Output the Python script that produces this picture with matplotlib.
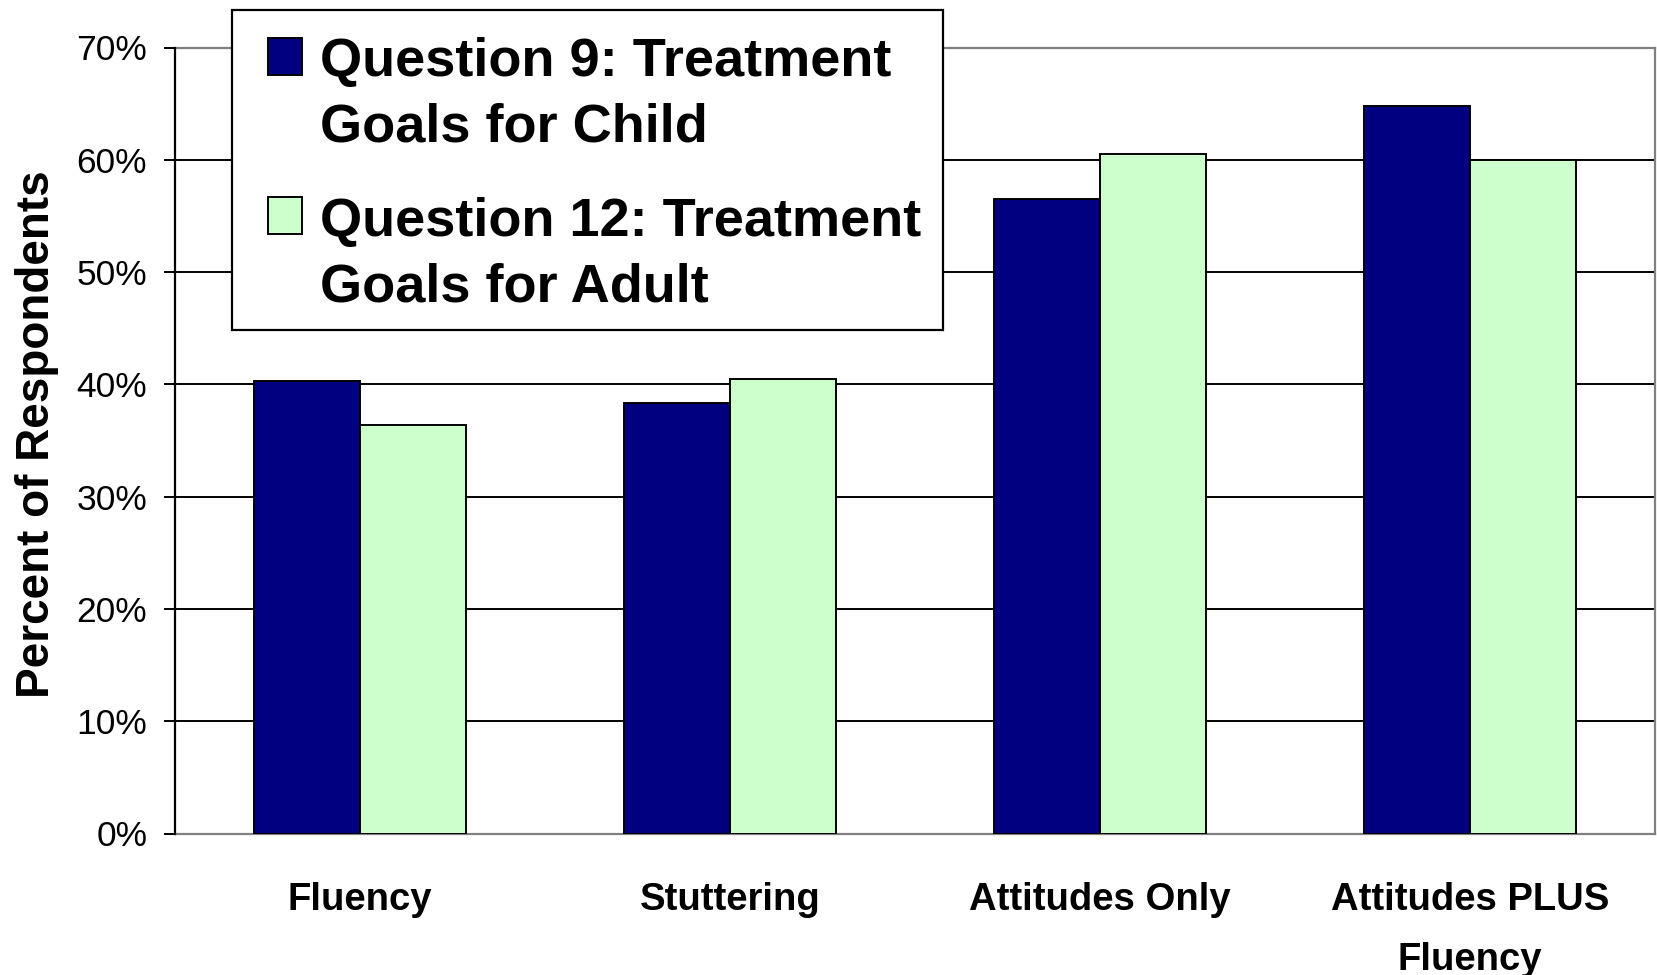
import matplotlib
matplotlib.use("Agg")
import matplotlib.pyplot as plt
import matplotlib.transforms as mtransforms
from matplotlib.patches import Rectangle
from matplotlib.ticker import FuncFormatter
import numpy as np

plt.rcParams['font.family'] = ['Liberation Sans', 'DejaVu Sans']

# ---- data -------------------------------------------------------------
categories = ["Fluency", "Stuttering", "Attitudes Only", "Attitudes PLUS\nFluency"]
series_names = ["Question 9: Treatment\nGoals for Child",
                "Question 12: Treatment\nGoals for Adult"]
q9_child = [40.3, 38.3, 56.5, 64.8]
q12_adult = [36.4, 40.5, 60.5, 60.0]
y_ticks = [0, 10, 20, 30, 40, 50, 60, 70]
y_label = "Percent of Respondents"

colors = ["#000080", "#CCFFCC"]

# ---- figure -------------------------------------------------------------
W, H = 1658, 975
fig = plt.figure(figsize=(W / 100, H / 100), dpi=100)
ax = fig.add_axes([175 / W, 1 - 833.5 / H, 1480 / W, (833.5 - 47.5) / H])

x = np.arange(len(categories))
bw = 1 / 3.5  # 150% gap between groups
for i, (vals, col) in enumerate(zip([q9_child, q12_adult], colors)):
    ax.bar(x + (i - 0.5) * bw, vals, width=bw, color=col,
           edgecolor="black", linewidth=1.4, zorder=3)

ax.set_xlim(-0.5, len(categories) - 0.5)
ax.set_ylim(y_ticks[0], y_ticks[-1])
ax.set_yticks(y_ticks)
ax.yaxis.set_major_formatter(FuncFormatter(lambda v, p: f"{v:.0f}%"))

# horizontal gridlines (inner ones only; the frame covers 0% and 70%)
for v in y_ticks[1:-1]:
    ax.axhline(v, color="black", linewidth=1.4, zorder=1)

for side in ["top", "right", "bottom"]:
    ax.spines[side].set_color("#808080")
    ax.spines[side].set_linewidth(1.6)
ax.spines["left"].set_color("black")
ax.spines["left"].set_linewidth(1.6)
ax.spines["left"].set_zorder(4)

ax.tick_params(axis="y", direction="out", length=8, width=1.4, pad=12,
               labelsize=25.5, color="black")
ax.set_xticks(x)
ax.set_xticklabels(categories, fontsize=27.5, fontweight="bold",
                   linespacing=1.86)
ax.tick_params(axis="x", length=0, pad=35)

# y-axis title
px = mtransforms.Affine2D().scale(1 / W, -1 / H).translate(0, 1) + fig.transFigure
fig.text(37, 434, y_label, transform=px, rotation=90, ha="center",
         va="center", fontsize=33, fontweight="bold")

# ---- legend box -------------------------------------------------------
fig.patches.append(Rectangle((232.3, 10), 711, 320, transform=px,
                             facecolor="white", edgecolor="black",
                             linewidth=1.6, zorder=5))
sq_tops = [37.5, 196.5]
first_baselines = [76, 236]
line_step = 65.5
for name, col, top, base in zip(series_names, colors, sq_tops, first_baselines):
    fig.patches.append(Rectangle((268, top), 34, 37, transform=px,
                                 facecolor=col, edgecolor="black",
                                 linewidth=1.4, zorder=6))
    for j, line in enumerate(name.split("\n")):
        fig.text(320, base + j * line_step, line, transform=px,
                 ha="left", va="baseline", fontsize=39,
                 fontweight="bold", zorder=7)

fig.savefig("out.png", dpi=100, facecolor="white")
